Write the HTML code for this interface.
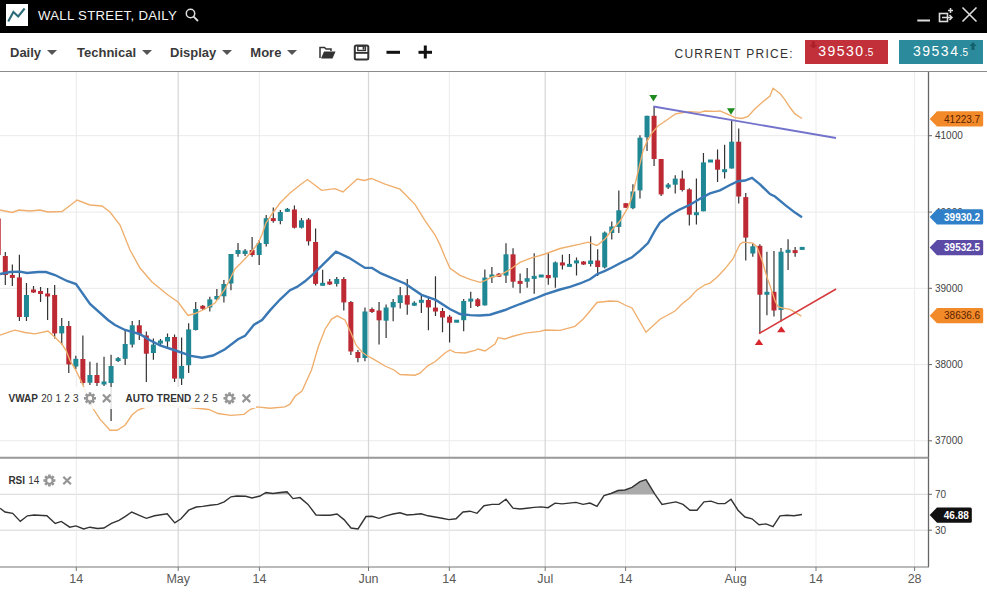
<!DOCTYPE html>
<html><head><meta charset="utf-8"><style>
*{margin:0;padding:0;box-sizing:border-box}
html,body{width:987px;height:593px;overflow:hidden;background:#fff;font-family:"Liberation Sans",sans-serif}
#hdr{position:absolute;left:0;top:0;width:987px;height:32.5px;background:#000}
#logo{position:absolute;left:6px;top:4px;width:22px;height:22px;background:#fff}
#title{position:absolute;left:38px;top:7.8px;color:#f4f4f4;font-size:13.2px;letter-spacing:0.3px;line-height:16px;white-space:nowrap}
#tb{position:absolute;left:0;top:32.5px;width:987px;height:39px;background:#fff;border-bottom:1.5px solid #8c8c8c}
.menu{position:absolute;top:13.6px;font-size:13px;letter-spacing:0px;font-weight:bold;color:#3a3a3a;line-height:14px;white-space:nowrap}
.caret{display:inline-block;width:0;height:0;border-left:5px solid transparent;border-right:5px solid transparent;border-top:5.5px solid #555;vertical-align:middle;margin-left:6px;position:relative;top:-1px}
#cp{position:absolute;left:674.5px;top:14.6px;font-size:12px;color:#333;letter-spacing:1.25px;line-height:14px;white-space:nowrap}
.pbox{position:absolute;top:40px;height:23.6px;color:#fff;font-size:14px;line-height:22.2px;white-space:nowrap;letter-spacing:1.5px}
.pbox small{font-size:10px;letter-spacing:0.3px}
svg text.ax{font-size:10px;fill:#444;font-family:"Liberation Sans",sans-serif}
svg text.bx{font-size:12.5px;fill:#5a5a5a;font-family:"Liberation Sans",sans-serif}
svg text.tg{font-size:10px;font-family:"Liberation Sans",sans-serif}
svg text.lb{font-size:10px;word-spacing:0.4px;fill:#333;font-family:"Liberation Sans",sans-serif}
</style></head><body>
<div id="hdr">
 <div id="logo"><svg width="22" height="22" viewBox="0 0 22 22"><polyline points="2.2,17.6 7.4,7.9 12.2,12.4 18.6,4.5" fill="none" stroke="#2e6b78" stroke-width="2.1"/></svg></div>
 <div id="title">WALL STREET, DAILY</div>
 <svg style="position:absolute;left:185px;top:8px" width="15" height="14" viewBox="0 0 15 14"><circle cx="5.5" cy="5.5" r="4.2" fill="none" stroke="#ddd" stroke-width="1.5"/><line x1="8.6" y1="8.6" x2="13" y2="13" stroke="#ddd" stroke-width="1.8"/></svg>
 <svg style="position:absolute;left:915px;top:5px" width="65" height="20" viewBox="0 0 65 20">
  <line x1="2.3" y1="15.5" x2="15" y2="15.5" stroke="#ddd" stroke-width="2"/>
  <rect x="24.5" y="8.5" width="8" height="8" fill="none" stroke="#ddd" stroke-width="1.6"/>
  <path d="M27 12.5H37M34.5 10L37 12.5L34.5 15" fill="none" stroke="#ddd" stroke-width="1.5"/>
  <path d="M35.5 3V8M33 5.5H38" stroke="#ddd" stroke-width="1.5"/>
  <path d="M47.5 2.5L61.5 16.5M61.5 2.5L47.5 16.5" stroke="#ddd" stroke-width="1.6"/>
 </svg>
</div>
<div id="tb">
 <div class="menu" style="left:10px">Daily<span class="caret"></span></div>
 <div class="menu" style="left:77px">Technical<span class="caret"></span></div>
 <div class="menu" style="left:170px">Display<span class="caret"></span></div>
 <div class="menu" style="left:250.3px">More<span class="caret"></span></div>
 <svg style="position:absolute;left:318px;top:11px" width="120" height="17" viewBox="0 0 120 17">
  <path d="M2 14V3.5H6.5L8 5H13V7" fill="none" stroke="#333" stroke-width="1.5"/>
  <path d="M3 14.5L6 7.5H17.5L14.5 14.5Z" fill="#333"/>
  <rect x="36.8" y="1.5" width="13.5" height="14" rx="1.5" fill="none" stroke="#333" stroke-width="2"/>
  <rect x="39.8" y="2.2" width="7.6" height="4.3" fill="none" stroke="#333" stroke-width="1.4"/>
  <rect x="44.6" y="3" width="1.8" height="2.6" fill="#333"/>
  <rect x="37" y="8" width="13" height="1.8" fill="#333"/>
  <rect x="68.5" y="6.8" width="13.5" height="3" fill="#111"/>
  <rect x="100.5" y="6.8" width="13.5" height="3" fill="#111"/>
  <rect x="105.8" y="1.5" width="3" height="13" fill="#111"/>
 </svg>
 <div id="cp">CURRENT PRICE:</div>
</div>
<div class="pbox" style="left:804.7px;width:83.4px;background:#c2303a;padding-left:13.5px">39530<small>.5</small></div>
<div class="pbox" style="left:899px;width:84px;background:#2b8a9c;padding-left:14px">39534<small>.5</small></div>
<svg style="position:absolute;left:805px;top:40px" width="178" height="24" viewBox="805 40 178 24">
 <path d="M812 41.5H815V45H817.5L813.5 48.5L809.5 45H812Z" fill="#a51d25" opacity="0.8"/>
 <path d="M973 42L976.5 46H974.5V50H971.5V46H969.5Z" fill="#0f5c68" opacity="0.9"/>
</svg>
<svg width="987" height="521" viewBox="0 72 987 521" style="position:absolute;left:0;top:72px"><line x1="0" y1="135.7" x2="928" y2="135.7" stroke="#e9e9e9" stroke-width="1"/><line x1="0" y1="212.1" x2="928" y2="212.1" stroke="#e9e9e9" stroke-width="1"/><line x1="0" y1="288.3" x2="928" y2="288.3" stroke="#e9e9e9" stroke-width="1"/><line x1="0" y1="364.6" x2="928" y2="364.6" stroke="#e9e9e9" stroke-width="1"/><line x1="0" y1="440.8" x2="928" y2="440.8" stroke="#e9e9e9" stroke-width="1"/><line x1="0" y1="494.3" x2="928" y2="494.3" stroke="#d6d6d6" stroke-width="1"/><line x1="0" y1="530.2" x2="928" y2="530.2" stroke="#d6d6d6" stroke-width="1"/><line x1="76.3" y1="72" x2="76.3" y2="567" stroke="#ececec" stroke-width="1"/><line x1="259.4" y1="72" x2="259.4" y2="567" stroke="#ececec" stroke-width="1"/><line x1="449.3" y1="72" x2="449.3" y2="567" stroke="#ececec" stroke-width="1"/><line x1="625.6" y1="72" x2="625.6" y2="567" stroke="#ececec" stroke-width="1"/><line x1="816.0" y1="72" x2="816.0" y2="567" stroke="#ececec" stroke-width="1"/><line x1="914.6" y1="72" x2="914.6" y2="567" stroke="#ececec" stroke-width="1"/><line x1="178.2" y1="72" x2="178.2" y2="567" stroke="#d6d6d6" stroke-width="1.2"/><line x1="368.5" y1="72" x2="368.5" y2="567" stroke="#d6d6d6" stroke-width="1.2"/><line x1="545.2" y1="72" x2="545.2" y2="567" stroke="#d6d6d6" stroke-width="1.2"/><line x1="735.5" y1="72" x2="735.5" y2="567" stroke="#d6d6d6" stroke-width="1.2"/><polygon points="262.9,494.3 266.0,492.5 273.0,493.5 280.0,492.5 287.0,491.7 289.3,494.3" fill="#aaa"/><polygon points="608.2,494.3 611.0,493.5 618.0,490.5 625.0,490.0 632.0,487.4 640.0,481.6 646.0,479.6 655.0,494.3" fill="#aaa"/><polyline points="0.0,508.2 5.0,512.0 12.7,513.3 20.3,521.4 27.4,515.8 34.2,515.0 46.9,515.8 55.2,523.4 61.3,521.4 69.7,527.2 76.0,525.9 83.6,529.0 89.9,527.2 97.5,528.5 103.9,528.0 111.4,523.4 119.0,520.3 125.4,516.3 131.7,512.0 139.3,515.3 146.4,518.3 154.5,515.8 167.2,513.8 174.8,522.9 181.0,518.8 188.7,510.2 196.3,507.0 202.6,506.4 210.2,505.2 217.8,504.4 224.2,501.9 231.0,496.8 236.8,496.0 245.7,496.3 252.0,498.0 260.0,496.0 266.0,492.5 273.0,493.5 280.0,492.5 287.0,491.7 293.0,498.6 300.0,497.6 308.0,504.4 316.0,515.0 323.0,515.3 330.0,515.3 337.0,514.0 344.0,519.6 351.0,528.0 358.0,529.0 366.0,516.5 372.0,516.3 379.0,518.3 386.0,515.8 393.0,514.0 400.0,512.8 407.0,515.0 414.0,514.5 421.0,513.8 428.0,515.8 435.0,517.0 442.0,518.3 449.0,519.6 456.0,518.8 463.0,512.0 470.0,511.2 477.0,513.3 484.0,505.7 492.0,504.4 499.0,504.4 506.0,499.3 513.0,508.2 520.0,509.0 527.0,508.2 534.0,507.4 541.0,506.9 548.0,507.7 555.0,503.1 562.0,503.9 569.0,503.1 576.0,502.4 583.0,504.4 590.0,503.1 597.0,506.4 604.0,495.5 611.0,493.5 618.0,490.5 625.0,490.0 632.0,487.4 640.0,481.6 646.0,479.6 655.0,494.3 662.0,504.4 669.0,503.1 676.0,501.9 683.0,504.4 690.0,510.2 697.0,510.2 704.0,501.9 711.0,501.1 718.0,503.6 725.0,503.6 731.0,499.3 738.0,510.2 745.0,517.0 752.0,518.8 759.0,524.7 766.0,523.9 773.0,526.7 780.0,515.8 787.0,515.3 794.0,515.8 802.0,514.5" fill="none" stroke="#333" stroke-width="1.4"/><path d="M-1.75 212.0V258.0M5.30 252.0V285.0M12.35 264.4V286.0M19.40 254.7V321.0M26.46 283.0V321.0M33.51 286.0V293.0M40.56 287.0V302.0M47.61 288.0V320.0M54.66 285.0V338.5M61.72 318.0V344.6M68.77 321.0V373.0M75.82 355.7V369.0M82.87 335.5V385.0M89.92 361.8V385.0M96.98 362.8V386.0M104.03 356.7V386.0M111.08 354.7V421.0M118.13 357.0V362.0M125.18 330.0V365.0M132.24 321.0V347.6M139.29 320.0V340.0M146.34 331.4V382.0M153.39 338.5V359.8M160.44 339.0V345.0M167.50 333.4V347.6M174.55 334.4V382.0M181.60 337.5V385.0M188.65 323.3V373.0M195.70 302.0V330.4M202.76 305.0V310.0M209.81 296.7V311.5M216.86 289.0V300.0M223.91 280.0V302.4M230.96 254.0V290.3M238.02 243.0V256.7M245.07 249.0V256.0M252.12 237.0V256.7M259.17 240.0V265.0M266.22 215.0V246.6M273.28 207.5V222.7M280.33 210.0V224.3M287.38 208.0V212.0M294.43 205.5V228.5M301.48 218.0V228.5M308.54 218.0V245.4M315.59 228.4V285.5M322.64 269.7V285.5M329.69 279.0V285.0M336.74 277.0V286.5M343.80 277.0V310.5M350.85 301.0V355.0M357.90 350.0V362.2M364.95 307.5V361.2M372.00 307.5V313.0M379.06 302.0V344.6M386.11 304.4V338.0M393.16 299.0V321.2M400.21 287.0V308.6M407.26 279.0V314.7M414.32 301.3V306.0M421.37 295.9V313.0M428.42 297.0V330.3M435.47 276.2V316.0M442.52 308.0V332.3M449.58 315.0V342.5M456.63 320.2V322.2M463.68 299.0V331.3M470.73 291.8V308.0M477.78 298.0V307.0M484.84 269.5V305.4M491.89 266.9V283.0M498.94 273.0V277.0M505.99 243.2V283.0M513.04 248.2V287.8M520.10 273.6V293.2M527.15 268.0V287.8M534.20 253.3V293.8M541.25 275.0V277.0M548.30 253.3V284.7M555.36 261.4V287.8M562.41 254.7V269.5M569.46 254.0V266.5M576.51 257.4V275.6M583.56 261.0V265.0M590.62 236.2V266.6M597.67 249.2V276.1M604.72 231.5V268.6M611.77 221.4V239.6M618.82 190.4V233.0M625.88 203.2V207.8M632.93 184.3V209.3M639.98 135.3V198.5M647.03 115.8V150.9M654.08 106.3V166.0M661.14 159.0V196.0M668.19 183.0V189.0M675.24 175.2V193.4M682.29 170.5V191.4M689.34 188.3V225.5M696.40 178.6V224.4M703.45 152.9V211.3M710.50 160.0V162.0M717.55 149.4V181.9M724.60 144.8V178.6M731.66 119.9V168.5M738.71 128.6V203.5M745.76 193.0V260.5M752.81 243.6V256.8M759.86 244.3V333.5M766.92 251.7V315.3M773.97 250.9V316.6M781.02 248.0V321.4M788.07 239.2V269.9M795.12 247.0V256.8M802.18 247.3V249.5" stroke="#333" stroke-width="1.2" fill="none"/><rect x="-4.25" y="218.5" width="5.0" height="36.5" fill="#bd2a33"/><rect x="2.80" y="256.0" width="5.0" height="19.0" fill="#bd2a33"/><rect x="9.85" y="274.9" width="5.0" height="3.0" fill="#bd2a33"/><rect x="16.90" y="277.4" width="5.0" height="39.6" fill="#bd2a33"/><rect x="23.96" y="295.0" width="5.0" height="22.0" fill="#1f8894"/><rect x="31.01" y="289.5" width="5.0" height="3.0" fill="#bd2a33"/><rect x="38.06" y="291.0" width="5.0" height="3.0" fill="#bd2a33"/><rect x="45.11" y="293.5" width="5.0" height="3.0" fill="#bd2a33"/><rect x="52.16" y="295.0" width="5.0" height="38.4" fill="#bd2a33"/><rect x="59.22" y="326.0" width="5.0" height="7.4" fill="#1f8894"/><rect x="66.27" y="326.0" width="5.0" height="38.4" fill="#bd2a33"/><rect x="73.32" y="358.8" width="5.0" height="7.7" fill="#1f8894"/><rect x="80.37" y="359.0" width="5.0" height="24.0" fill="#bd2a33"/><rect x="87.42" y="375.0" width="5.0" height="7.7" fill="#1f8894"/><rect x="94.48" y="375.0" width="5.0" height="8.0" fill="#bd2a33"/><rect x="101.53" y="381.5" width="5.0" height="3.0" fill="#1f8894"/><rect x="108.58" y="366.0" width="5.0" height="17.0" fill="#1f8894"/><rect x="115.63" y="358.1" width="5.0" height="3.0" fill="#1f8894"/><rect x="122.68" y="344.0" width="5.0" height="14.8" fill="#1f8894"/><rect x="129.74" y="325.3" width="5.0" height="19.3" fill="#1f8894"/><rect x="136.79" y="325.3" width="5.0" height="9.1" fill="#bd2a33"/><rect x="143.84" y="335.5" width="5.0" height="18.2" fill="#bd2a33"/><rect x="150.89" y="344.6" width="5.0" height="8.4" fill="#1f8894"/><rect x="157.94" y="340.5" width="5.0" height="3.1" fill="#1f8894"/><rect x="165.00" y="337.0" width="5.0" height="4.5" fill="#1f8894"/><rect x="172.05" y="337.0" width="5.0" height="41.6" fill="#bd2a33"/><rect x="179.10" y="365.9" width="5.0" height="12.7" fill="#1f8894"/><rect x="186.15" y="329.4" width="5.0" height="35.8" fill="#1f8894"/><rect x="193.20" y="309.0" width="5.0" height="21.0" fill="#1f8894"/><rect x="200.26" y="305.8" width="5.0" height="3.0" fill="#bd2a33"/><rect x="207.31" y="299.4" width="5.0" height="8.1" fill="#1f8894"/><rect x="214.36" y="296.0" width="5.0" height="3.4" fill="#1f8894"/><rect x="221.41" y="284.0" width="5.0" height="12.3" fill="#1f8894"/><rect x="228.46" y="254.0" width="5.0" height="29.5" fill="#1f8894"/><rect x="235.52" y="250.0" width="5.0" height="4.0" fill="#1f8894"/><rect x="242.57" y="250.6" width="5.0" height="3.4" fill="#1f8894"/><rect x="249.62" y="250.0" width="5.0" height="5.0" fill="#bd2a33"/><rect x="256.67" y="243.0" width="5.0" height="12.0" fill="#1f8894"/><rect x="263.72" y="218.2" width="5.0" height="25.8" fill="#1f8894"/><rect x="270.78" y="218.1" width="5.0" height="3.0" fill="#bd2a33"/><rect x="277.83" y="212.0" width="5.0" height="9.0" fill="#1f8894"/><rect x="284.88" y="208.8" width="5.0" height="3.0" fill="#1f8894"/><rect x="291.93" y="209.5" width="5.0" height="18.2" fill="#bd2a33"/><rect x="298.98" y="220.3" width="5.0" height="7.4" fill="#1f8894"/><rect x="306.04" y="219.6" width="5.0" height="21.7" fill="#bd2a33"/><rect x="313.09" y="242.0" width="5.0" height="41.9" fill="#bd2a33"/><rect x="320.14" y="282.8" width="5.0" height="3.0" fill="#1f8894"/><rect x="327.19" y="281.5" width="5.0" height="3.0" fill="#bd2a33"/><rect x="334.24" y="279.0" width="5.0" height="4.9" fill="#1f8894"/><rect x="341.30" y="279.0" width="5.0" height="23.4" fill="#bd2a33"/><rect x="348.35" y="302.0" width="5.0" height="49.5" fill="#bd2a33"/><rect x="355.40" y="352.0" width="5.0" height="6.0" fill="#bd2a33"/><rect x="362.45" y="311.5" width="5.0" height="46.5" fill="#1f8894"/><rect x="369.50" y="309.0" width="5.0" height="3.0" fill="#bd2a33"/><rect x="376.56" y="310.5" width="5.0" height="9.8" fill="#bd2a33"/><rect x="383.61" y="307.5" width="5.0" height="13.2" fill="#1f8894"/><rect x="390.66" y="302.0" width="5.0" height="5.4" fill="#1f8894"/><rect x="397.71" y="295.2" width="5.0" height="7.8" fill="#1f8894"/><rect x="404.76" y="295.2" width="5.0" height="9.4" fill="#bd2a33"/><rect x="411.82" y="302.7" width="5.0" height="3.0" fill="#1f8894"/><rect x="418.87" y="299.8" width="5.0" height="3.0" fill="#1f8894"/><rect x="425.92" y="300.0" width="5.0" height="7.4" fill="#bd2a33"/><rect x="432.97" y="307.6" width="5.0" height="3.9" fill="#bd2a33"/><rect x="440.02" y="311.0" width="5.0" height="6.5" fill="#bd2a33"/><rect x="447.08" y="316.7" width="5.0" height="6.1" fill="#bd2a33"/><rect x="454.13" y="319.7" width="5.0" height="3.0" fill="#1f8894"/><rect x="461.18" y="301.0" width="5.0" height="19.2" fill="#1f8894"/><rect x="468.23" y="298.6" width="5.0" height="3.0" fill="#1f8894"/><rect x="475.28" y="299.3" width="5.0" height="6.7" fill="#bd2a33"/><rect x="482.34" y="277.6" width="5.0" height="27.8" fill="#1f8894"/><rect x="489.39" y="274.5" width="5.0" height="3.0" fill="#1f8894"/><rect x="496.44" y="273.7" width="5.0" height="3.0" fill="#bd2a33"/><rect x="503.49" y="254.3" width="5.0" height="21.3" fill="#1f8894"/><rect x="510.54" y="254.3" width="5.0" height="27.4" fill="#bd2a33"/><rect x="517.60" y="280.9" width="5.0" height="3.0" fill="#bd2a33"/><rect x="524.65" y="278.2" width="5.0" height="3.5" fill="#1f8894"/><rect x="531.70" y="275.9" width="5.0" height="3.0" fill="#1f8894"/><rect x="538.75" y="274.5" width="5.0" height="3.0" fill="#1f8894"/><rect x="545.80" y="275.0" width="5.0" height="3.2" fill="#bd2a33"/><rect x="552.86" y="262.4" width="5.0" height="15.2" fill="#1f8894"/><rect x="559.91" y="262.4" width="5.0" height="3.1" fill="#bd2a33"/><rect x="566.96" y="263.9" width="5.0" height="3.0" fill="#1f8894"/><rect x="574.01" y="260.4" width="5.0" height="3.0" fill="#1f8894"/><rect x="581.06" y="261.5" width="5.0" height="3.0" fill="#bd2a33"/><rect x="588.12" y="260.5" width="5.0" height="3.5" fill="#1f8894"/><rect x="595.17" y="260.5" width="5.0" height="6.5" fill="#bd2a33"/><rect x="602.22" y="232.6" width="5.0" height="34.8" fill="#1f8894"/><rect x="609.27" y="226.5" width="5.0" height="6.5" fill="#1f8894"/><rect x="616.32" y="210.3" width="5.0" height="16.6" fill="#1f8894"/><rect x="623.38" y="203.2" width="5.0" height="4.6" fill="#bd2a33"/><rect x="630.43" y="191.4" width="5.0" height="16.8" fill="#1f8894"/><rect x="637.48" y="137.7" width="5.0" height="52.7" fill="#1f8894"/><rect x="644.53" y="115.8" width="5.0" height="21.5" fill="#1f8894"/><rect x="651.58" y="115.8" width="5.0" height="43.2" fill="#bd2a33"/><rect x="658.64" y="159.0" width="5.0" height="35.4" fill="#bd2a33"/><rect x="665.69" y="184.5" width="5.0" height="3.0" fill="#1f8894"/><rect x="672.74" y="178.6" width="5.0" height="6.1" fill="#1f8894"/><rect x="679.79" y="178.6" width="5.0" height="11.4" fill="#bd2a33"/><rect x="686.84" y="189.4" width="5.0" height="25.3" fill="#bd2a33"/><rect x="693.90" y="212.2" width="5.0" height="3.0" fill="#1f8894"/><rect x="700.95" y="162.4" width="5.0" height="48.9" fill="#1f8894"/><rect x="708.00" y="159.5" width="5.0" height="3.0" fill="#1f8894"/><rect x="715.05" y="159.6" width="5.0" height="10.1" fill="#bd2a33"/><rect x="722.10" y="169.2" width="5.0" height="3.0" fill="#1f8894"/><rect x="729.16" y="141.7" width="5.0" height="26.8" fill="#1f8894"/><rect x="736.21" y="141.7" width="5.0" height="54.8" fill="#bd2a33"/><rect x="743.26" y="197.1" width="5.0" height="40.5" fill="#bd2a33"/><rect x="750.31" y="246.3" width="5.0" height="7.2" fill="#1f8894"/><rect x="757.36" y="245.8" width="5.0" height="48.9" fill="#bd2a33"/><rect x="764.42" y="291.8" width="5.0" height="3.0" fill="#1f8894"/><rect x="771.47" y="291.8" width="5.0" height="18.7" fill="#bd2a33"/><rect x="778.52" y="251.7" width="5.0" height="58.3" fill="#1f8894"/><rect x="785.57" y="249.8" width="5.0" height="3.0" fill="#1f8894"/><rect x="792.62" y="250.1" width="5.0" height="3.0" fill="#bd2a33"/><rect x="799.68" y="246.9" width="5.0" height="3.0" fill="#1f8894"/><polyline points="0.0,210.0 12.0,212.5 19.0,210.0 30.0,211.0 40.0,210.0 48.0,212.0 62.0,211.5 72.0,204.0 77.0,200.0 90.0,205.0 102.0,206.0 110.0,212.0 120.0,225.0 130.0,250.0 140.0,268.0 152.0,282.0 168.0,295.0 178.0,302.0 188.0,315.5 195.0,313.5 205.0,309.0 215.0,303.0 225.0,289.0 230.0,279.0 235.0,269.0 240.0,264.0 250.0,253.5 258.0,243.4 262.0,234.5 266.0,223.0 272.0,214.0 280.0,203.0 290.0,193.0 300.0,185.0 307.5,179.5 321.7,190.3 334.9,188.6 343.0,191.9 357.2,179.0 364.3,180.5 371.4,178.5 385.0,184.2 400.0,189.2 415.0,204.4 425.0,220.6 435.0,234.8 440.0,244.9 445.0,257.0 450.0,268.2 460.0,275.3 470.0,279.3 480.0,282.3 485.0,280.7 492.0,277.0 500.0,275.0 510.0,269.5 520.0,262.4 530.0,258.4 545.0,254.0 560.0,248.5 580.0,244.2 588.0,242.2 597.0,245.5 605.0,239.0 612.0,230.0 620.0,221.0 628.0,207.4 632.0,197.0 636.0,180.3 640.0,163.7 643.0,151.0 647.0,141.3 652.0,133.0 658.0,126.0 665.0,121.2 670.0,117.7 675.0,114.2 680.0,113.0 690.0,111.7 700.0,112.4 705.0,111.0 715.0,111.3 720.0,111.0 728.0,114.4 735.0,117.7 742.0,118.5 748.0,116.5 755.0,108.8 762.0,102.4 770.0,96.0 773.0,88.3 780.0,93.4 785.0,99.8 790.0,107.5 795.0,113.9 802.0,118.5" fill="none" stroke="#f0ae6c" stroke-width="1.35"/><polyline points="0.0,335.2 10.0,331.7 15.0,330.1 25.0,332.5 35.0,333.8 48.0,331.1 56.0,338.2 62.0,344.3 66.0,350.3 70.0,360.5 76.0,370.6 82.0,382.7 87.0,394.8 92.0,407.0 100.0,419.1 110.0,430.2 117.0,430.2 125.0,425.2 132.0,415.0 138.0,410.0 146.0,407.0 160.0,405.0 175.0,406.0 195.0,408.0 209.0,409.5 218.0,413.5 231.0,415.3 244.0,414.3 250.0,409.5 257.0,406.9 270.0,408.2 285.0,406.9 290.0,404.2 295.0,396.3 302.0,391.0 311.5,370.0 318.2,347.0 325.0,329.2 331.6,319.1 337.2,315.8 345.0,320.0 351.0,333.0 356.0,345.0 362.0,352.0 366.0,355.0 373.9,359.3 385.0,366.0 394.0,370.0 400.0,374.5 415.0,375.2 420.0,373.2 428.0,365.6 435.0,361.8 445.0,353.0 450.0,349.9 455.0,352.4 465.0,353.0 475.0,350.4 478.0,349.0 485.0,351.0 495.0,344.0 498.0,337.7 505.0,339.0 512.0,336.5 525.0,333.2 540.0,331.4 545.0,330.0 560.0,330.3 575.0,326.3 583.0,319.2 590.0,311.0 597.0,302.5 610.0,301.0 618.0,301.3 625.0,305.0 632.0,308.0 646.0,332.3 660.0,319.2 675.0,311.0 682.0,304.0 690.0,297.5 697.0,289.9 705.0,284.8 710.0,283.1 717.0,277.2 725.0,268.8 733.0,258.7 737.0,250.2 740.0,244.3 743.0,242.1 753.0,243.2 757.0,246.9 762.0,260.4 767.0,277.2 770.0,285.6 775.0,300.8 778.0,306.7 783.0,308.2 790.0,309.3 801.4,316.2" fill="none" stroke="#f0ae6c" stroke-width="1.35"/><polyline points="0.0,274.0 10.0,272.0 20.0,271.6 27.0,273.0 38.0,272.0 46.0,272.0 55.0,275.0 67.0,281.0 76.0,284.0 90.0,304.0 108.0,320.0 115.0,325.0 125.0,330.0 140.0,334.2 150.0,340.2 160.0,345.3 174.0,350.0 191.0,355.9 202.0,357.7 213.0,355.5 225.0,349.2 238.0,339.2 245.0,335.9 254.0,324.7 262.0,320.0 270.0,310.4 280.0,299.5 290.0,290.2 297.0,286.9 305.0,281.3 314.0,273.4 336.0,251.6 349.0,257.8 365.0,267.9 372.0,267.9 381.0,273.4 405.3,283.7 421.5,294.8 435.7,299.9 449.8,309.0 460.0,314.0 470.0,315.1 480.0,315.5 490.0,314.7 505.0,310.0 520.0,304.0 535.0,298.5 545.0,294.4 560.0,289.5 570.0,286.8 580.0,283.5 590.0,279.3 597.0,274.2 605.0,270.8 612.0,267.5 620.0,263.2 632.0,257.3 640.0,250.6 648.0,243.0 655.0,230.4 660.0,222.5 670.0,215.0 680.0,209.3 690.0,204.8 700.0,198.7 710.0,193.4 720.0,190.3 730.0,185.0 738.0,181.2 745.0,180.5 752.0,177.9 760.0,184.3 770.0,194.1 775.0,196.5 785.0,204.9 795.0,212.6 802.0,217.2" fill="none" stroke="#3a78b5" stroke-width="2.4"/><line x1="653.5" y1="106.5" x2="836" y2="138" stroke="#7373cc" stroke-width="1.8"/><line x1="759" y1="333.5" x2="836.1" y2="289" stroke="#d6393c" stroke-width="1.5"/><polygon points="649.4,95.0 657.4,95.0 653.4,101.5" fill="#1d8a1d"/><polygon points="727.0,108.3 735.0,108.3 731.0,114.8" fill="#1d8a1d"/><polygon points="754.8,345.0 763.2,345.0 759.0,339.0" fill="#d8262c"/><polygon points="777.1,332.2 785.5,332.2 781.3,326.2" fill="#d8262c"/><rect x="0" y="387" width="113" height="22" fill="#fff" fill-opacity="0.85"/><rect x="119" y="387" width="137" height="21" fill="#fff" fill-opacity="0.9"/><text x="8.5" y="402" class="lb"><tspan font-weight="bold">VWAP</tspan> 20 1 2 3</text><rect x="88.70" y="392.30" width="2.6" height="3" fill="#959595" transform="rotate(0.0 90.00 398.30)"/><rect x="88.70" y="392.30" width="2.6" height="3" fill="#959595" transform="rotate(45.0 90.00 398.30)"/><rect x="88.70" y="392.30" width="2.6" height="3" fill="#959595" transform="rotate(90.0 90.00 398.30)"/><rect x="88.70" y="392.30" width="2.6" height="3" fill="#959595" transform="rotate(135.0 90.00 398.30)"/><rect x="88.70" y="392.30" width="2.6" height="3" fill="#959595" transform="rotate(180.0 90.00 398.30)"/><rect x="88.70" y="392.30" width="2.6" height="3" fill="#959595" transform="rotate(225.0 90.00 398.30)"/><rect x="88.70" y="392.30" width="2.6" height="3" fill="#959595" transform="rotate(270.0 90.00 398.30)"/><rect x="88.70" y="392.30" width="2.6" height="3" fill="#959595" transform="rotate(315.0 90.00 398.30)"/><circle cx="90.00" cy="398.30" r="3.30" fill="none" stroke="#959595" stroke-width="2.2"/><path d="M102.9 394.5L110.5 402.1M110.5 394.5L102.9 402.1" stroke="#959595" stroke-width="2.2"/><text x="125.5" y="402" class="lb"><tspan font-weight="bold">AUTO TREND</tspan> 2 2 5</text><rect x="228.20" y="392.30" width="2.6" height="3" fill="#959595" transform="rotate(0.0 229.50 398.30)"/><rect x="228.20" y="392.30" width="2.6" height="3" fill="#959595" transform="rotate(45.0 229.50 398.30)"/><rect x="228.20" y="392.30" width="2.6" height="3" fill="#959595" transform="rotate(90.0 229.50 398.30)"/><rect x="228.20" y="392.30" width="2.6" height="3" fill="#959595" transform="rotate(135.0 229.50 398.30)"/><rect x="228.20" y="392.30" width="2.6" height="3" fill="#959595" transform="rotate(180.0 229.50 398.30)"/><rect x="228.20" y="392.30" width="2.6" height="3" fill="#959595" transform="rotate(225.0 229.50 398.30)"/><rect x="228.20" y="392.30" width="2.6" height="3" fill="#959595" transform="rotate(270.0 229.50 398.30)"/><rect x="228.20" y="392.30" width="2.6" height="3" fill="#959595" transform="rotate(315.0 229.50 398.30)"/><circle cx="229.50" cy="398.30" r="3.30" fill="none" stroke="#959595" stroke-width="2.2"/><path d="M242.6 394.5L250.2 402.1M250.2 394.5L242.6 402.1" stroke="#959595" stroke-width="2.2"/><text x="8.4" y="484" class="lb"><tspan font-weight="bold">RSI</tspan> 14</text><rect x="48.10" y="474.50" width="2.6" height="3" fill="#959595" transform="rotate(0.0 49.40 480.50)"/><rect x="48.10" y="474.50" width="2.6" height="3" fill="#959595" transform="rotate(45.0 49.40 480.50)"/><rect x="48.10" y="474.50" width="2.6" height="3" fill="#959595" transform="rotate(90.0 49.40 480.50)"/><rect x="48.10" y="474.50" width="2.6" height="3" fill="#959595" transform="rotate(135.0 49.40 480.50)"/><rect x="48.10" y="474.50" width="2.6" height="3" fill="#959595" transform="rotate(180.0 49.40 480.50)"/><rect x="48.10" y="474.50" width="2.6" height="3" fill="#959595" transform="rotate(225.0 49.40 480.50)"/><rect x="48.10" y="474.50" width="2.6" height="3" fill="#959595" transform="rotate(270.0 49.40 480.50)"/><rect x="48.10" y="474.50" width="2.6" height="3" fill="#959595" transform="rotate(315.0 49.40 480.50)"/><circle cx="49.40" cy="480.50" r="3.30" fill="none" stroke="#959595" stroke-width="2.2"/><path d="M63.3 476.7L70.9 484.3M70.9 476.7L63.3 484.3" stroke="#959595" stroke-width="2.2"/><line x1="928.5" y1="72" x2="928.5" y2="567" stroke="#666" stroke-width="1.3"/><line x1="0" y1="457.8" x2="928.5" y2="457.8" stroke="#999" stroke-width="2"/><line x1="0" y1="567" x2="929" y2="567" stroke="#777" stroke-width="1.2"/><line x1="928.5" y1="135.7" x2="932" y2="135.7" stroke="#666" stroke-width="1"/><text x="935" y="139.3" class="ax">41000</text><line x1="928.5" y1="212.1" x2="932" y2="212.1" stroke="#666" stroke-width="1"/><text x="935" y="215.7" class="ax">40000</text><line x1="928.5" y1="288.3" x2="932" y2="288.3" stroke="#666" stroke-width="1"/><text x="935" y="291.9" class="ax">39000</text><line x1="928.5" y1="364.6" x2="932" y2="364.6" stroke="#666" stroke-width="1"/><text x="935" y="368.2" class="ax">38000</text><line x1="928.5" y1="440.8" x2="932" y2="440.8" stroke="#666" stroke-width="1"/><text x="935" y="444.4" class="ax">37000</text><line x1="928.5" y1="494.3" x2="932" y2="494.3" stroke="#666" stroke-width="1"/><text x="935" y="497.9" class="ax">70</text><line x1="928.5" y1="530.2" x2="932" y2="530.2" stroke="#666" stroke-width="1"/><text x="935" y="533.8" class="ax">30</text><line x1="76.3" y1="567" x2="76.3" y2="571" stroke="#777" stroke-width="1"/><text x="76.3" y="583" class="bx" text-anchor="middle">14</text><line x1="178.2" y1="567" x2="178.2" y2="571" stroke="#777" stroke-width="1"/><text x="178.2" y="583" class="bx" text-anchor="middle">May</text><line x1="259.4" y1="567" x2="259.4" y2="571" stroke="#777" stroke-width="1"/><text x="259.4" y="583" class="bx" text-anchor="middle">14</text><line x1="368.5" y1="567" x2="368.5" y2="571" stroke="#777" stroke-width="1"/><text x="368.5" y="583" class="bx" text-anchor="middle">Jun</text><line x1="449.3" y1="567" x2="449.3" y2="571" stroke="#777" stroke-width="1"/><text x="449.3" y="583" class="bx" text-anchor="middle">14</text><line x1="545.2" y1="567" x2="545.2" y2="571" stroke="#777" stroke-width="1"/><text x="545.2" y="583" class="bx" text-anchor="middle">Jul</text><line x1="625.6" y1="567" x2="625.6" y2="571" stroke="#777" stroke-width="1"/><text x="625.6" y="583" class="bx" text-anchor="middle">14</text><line x1="735.5" y1="567" x2="735.5" y2="571" stroke="#777" stroke-width="1"/><text x="735.5" y="583" class="bx" text-anchor="middle">Aug</text><line x1="816.0" y1="567" x2="816.0" y2="571" stroke="#777" stroke-width="1"/><text x="816.0" y="583" class="bx" text-anchor="middle">14</text><line x1="914.6" y1="567" x2="914.6" y2="571" stroke="#777" stroke-width="1"/><text x="914.6" y="583" class="bx" text-anchor="middle">28</text><path d="M929.7 118.9L937.0 111.3H981.7Q983.2 111.3 983.2 112.8V125.0Q983.2 126.5 981.7 126.5H937.0Z" fill="#f28a2a"/><text x="980.2" y="122.6" class="tg" font-weight="normal" fill="#5a2200" text-anchor="end">41223.7</text><path d="M929.7 216.9L937.0 209.3H981.7Q983.2 209.3 983.2 210.8V223.0Q983.2 224.5 981.7 224.5H937.0Z" fill="#2f80c8"/><text x="980.2" y="220.6" class="tg" font-weight="bold" fill="#fff" text-anchor="end">39930.2</text><path d="M929.7 247.6L937.0 240.0H981.7Q983.2 240.0 983.2 241.5V253.7Q983.2 255.2 981.7 255.2H937.0Z" fill="#5b4aa6"/><text x="980.2" y="251.3" class="tg" font-weight="bold" fill="#fff" text-anchor="end">39532.5</text><path d="M929.7 315.7L937.0 308.1H981.7Q983.2 308.1 983.2 309.6V321.8Q983.2 323.3 981.7 323.3H937.0Z" fill="#f28a2a"/><text x="980.2" y="319.4" class="tg" font-weight="normal" fill="#5a2200" text-anchor="end">38636.6</text><path d="M929.7 515.1L937.0 507.5H970.3Q971.8 507.5 971.8 509.0V521.2Q971.8 522.7 970.3 522.7H937.0Z" fill="#111"/><text x="968.8" y="518.8" class="tg" font-weight="bold" fill="#fff" text-anchor="end">46.88</text></svg>
</body></html>
